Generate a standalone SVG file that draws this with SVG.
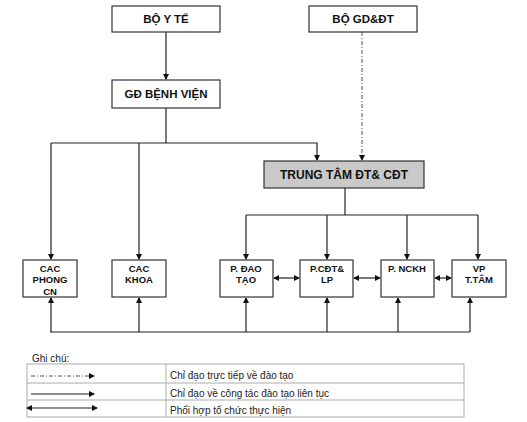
<svg xmlns="http://www.w3.org/2000/svg" width="527" height="422" viewBox="0 0 527 422">
<defs>
<style>
.box{fill:#fff;stroke:#333;stroke-width:1.2}
.tt{fill:#c9c9c9;stroke:#333;stroke-width:1.2}
.t{font-family:"Liberation Sans",Arial,sans-serif;font-weight:bold;fill:#111;text-anchor:middle}
.big{font-size:11.5px}
.sm{font-size:9.5px}
.ln{fill:none;stroke:#222;stroke-width:1.2}
.dash{fill:none;stroke:#555;stroke-width:1;stroke-dasharray:4,2,1,2}
.lg{font-family:"Liberation Sans",Arial,sans-serif;font-size:10px;fill:#222}
.grid{fill:none;stroke:#aaa;stroke-width:1}
</style>
<marker id="ah" markerWidth="6" markerHeight="6" refX="5" refY="3" orient="auto" markerUnits="userSpaceOnUse">
<path d="M0,0 L6,3 L0,6 z" fill="#111"/>
</marker>
<marker id="as" markerWidth="6" markerHeight="6" refX="1" refY="3" orient="auto" markerUnits="userSpaceOnUse">
<path d="M6,0 L0,3 L6,6 z" fill="#111"/>
</marker>
</defs>
<rect width="527" height="422" fill="#fff"/>
<g id="connectors">
<line class="ln" x1="166" y1="32" x2="166" y2="79" marker-end="url(#ah)"/>
<line class="dash" x1="362" y1="32" x2="362" y2="160" marker-end="url(#ah)"/>
<polyline class="ln" points="166,108 166,143"/>
<polyline class="ln" points="51,143 317,143 317,160" marker-end="url(#ah)"/>
<line class="ln" x1="51" y1="143" x2="51" y2="259" marker-end="url(#ah)"/>
<line class="ln" x1="139" y1="143" x2="139" y2="259" marker-end="url(#ah)"/>
<line class="ln" x1="345" y1="188" x2="345" y2="215"/>
<line class="ln" x1="246" y1="215" x2="478" y2="215"/>
<line class="ln" x1="246" y1="215" x2="246" y2="259" marker-end="url(#ah)"/>
<line class="ln" x1="327" y1="215" x2="327" y2="259" marker-end="url(#ah)"/>
<line class="ln" x1="407" y1="215" x2="407" y2="259" marker-end="url(#ah)"/>
<line class="ln" x1="478" y1="215" x2="478" y2="259" marker-end="url(#ah)"/>
<line class="ln" x1="274" y1="278" x2="299" y2="278" marker-start="url(#as)" marker-end="url(#ah)"/>
<line class="ln" x1="354" y1="278" x2="380" y2="278" marker-start="url(#as)" marker-end="url(#ah)"/>
<line class="ln" x1="435" y1="278" x2="451" y2="278" marker-start="url(#as)" marker-end="url(#ah)"/>
<line class="ln" x1="50" y1="332" x2="470" y2="332"/>
<line class="ln" x1="51" y1="332" x2="51" y2="298" marker-end="url(#ah)"/>
<line class="ln" x1="139" y1="332" x2="139" y2="298" marker-end="url(#ah)"/>
<line class="ln" x1="246" y1="332" x2="246" y2="298" marker-end="url(#ah)"/>
<line class="ln" x1="327" y1="332" x2="327" y2="298" marker-end="url(#ah)"/>
<line class="ln" x1="398" y1="332" x2="398" y2="298" marker-end="url(#ah)"/>
<line class="ln" x1="470" y1="332" x2="470" y2="298" marker-end="url(#ah)"/>
</g>
<g id="bo-y-te"><rect class="box" x="112" y="6" width="108" height="26"/><text class="t big" x="166" y="23">BỘ Y TẾ</text></g>
<g id="bo-gddt"><rect class="box" x="309" y="6" width="108" height="26"/><text class="t big" x="363" y="23">BỘ GD&amp;ĐT</text></g>
<g id="gd-benh-vien"><rect class="box" x="112" y="80" width="108" height="28"/><text class="t big" x="166" y="98">GĐ BỆNH VIỆN</text></g>
<g id="trung-tam"><rect class="tt" x="264" y="161" width="160" height="27"/><text class="t" style="font-size:12px" x="344" y="179">TRUNG TÂM ĐT&amp; CĐT</text></g>
<g id="cac-phong"><rect class="box" x="23" y="260" width="54" height="37"/><text class="t sm" x="50" y="272">CAC</text><text class="t sm" x="50" y="283">PHONG</text><text class="t sm" x="50" y="295">CN</text></g>
<g id="cac-khoa"><rect class="box" x="112" y="260" width="54" height="37"/><text class="t sm" x="139" y="272">CAC</text><text class="t sm" x="139" y="283">KHOA</text></g>
<g id="p-dao-tao"><rect class="box" x="220" y="260" width="53" height="37"/><text class="t sm" x="246" y="272">P. ĐAO</text><text class="t sm" x="246" y="283">TẠO</text></g>
<g id="p-cdt-lp"><rect class="box" x="300" y="260" width="53" height="37"/><text class="t sm" x="327" y="272">P.CĐT&amp;</text><text class="t sm" x="327" y="283">LP</text></g>
<g id="p-nckh"><rect class="box" x="381" y="260" width="53" height="37"/><text class="t sm" x="407" y="272">P. NCKH</text></g>
<g id="vp-ttam"><rect class="box" x="452" y="260" width="54" height="37"/><text class="t sm" x="479" y="272">VP</text><text class="t sm" x="479" y="283">T.TÂM</text></g>
<g id="legend">
<text class="lg" x="32" y="362">Ghi chú:</text>
<rect class="grid" x="27" y="364" width="437" height="53"/>
<line class="grid" x1="27" y1="383" x2="464" y2="383"/>
<line class="grid" x1="27" y1="400" x2="464" y2="400"/>
<line class="grid" x1="166" y1="364" x2="166" y2="417"/>
<line class="dash" x1="31" y1="376" x2="94" y2="376" marker-end="url(#ah)"/>
<line class="ln" x1="31" y1="394" x2="94" y2="394" marker-end="url(#ah)"/>
<line class="ln" x1="27" y1="408" x2="97" y2="408" marker-start="url(#as)" marker-end="url(#ah)"/>
<text class="lg" x="170" y="379">Chỉ đạo trực tiếp về đào tạo</text>
<text class="lg" x="170" y="397">Chỉ đạo về công tác đào tạo liên tục</text>
<text class="lg" x="170" y="414">Phối hợp tổ chức thực hiện</text>
</g>
</svg>
